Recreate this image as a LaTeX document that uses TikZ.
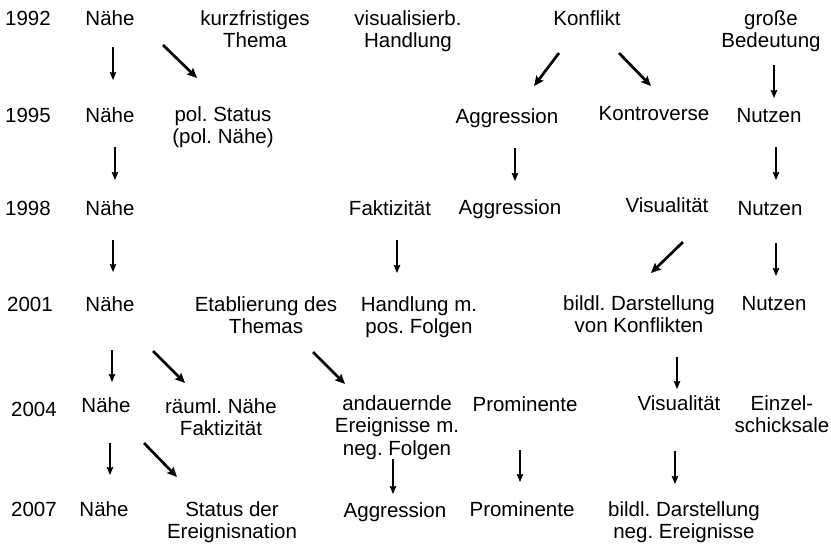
\documentclass[tikz,border=0pt]{standalone}
\usepackage{fontspec}
\setmainfont{Liberation Sans}
\usetikzlibrary{arrows.meta,calc}
\frenchspacing
\begin{document}
\begin{tikzpicture}[x=1pt,y=-1pt,
  lbl/.style={anchor=base, inner sep=0pt, align=center, font=\fontsize{20.5}{22.5}\selectfont},
  va/.style={-{Stealth[length=8pt,width=6.5pt,inset=1pt]}, line width=1.3pt},
  da/.style={-{Stealth[length=10pt,width=9pt,inset=2pt]}, line width=2.7pt}]
\useasboundingbox (0,0) rectangle (831,547);
% row 1992 (multi-line nodes: base = last line)
\node[lbl] (y92) at (28,25) {1992};
\node[lbl] (a1) at (110,25) {Nähe};
\node[lbl] (kt) at (255,47.5) {kurzfristiges\\Thema};
\node[lbl] (vh) at (408,47.5) {visualisierb.\\Handlung};
\node[lbl] (ko) at (587,25) {Konflikt};
\node[lbl] (gb) at (771,47.5) {große\\Bedeutung};
% row 1995
\node[lbl] (y95) at (28,122) {1995};
\node[lbl] (a2) at (110,122) {Nähe};
\node[lbl] (ps) at (223,143.5) {pol. Status\\(pol. Nähe)};
\node[lbl] (ag2) at (507,123) {Aggression};
\node[lbl] (kv) at (654,120) {Kontroverse};
\node[lbl] (nu2) at (769,122) {Nutzen};
% row 1998
\node[lbl] (y98) at (28,215) {1998};
\node[lbl] (a3) at (110,215) {Nähe};
\node[lbl] (fk3) at (390,215) {Faktizität};
\node[lbl] (ag3) at (510,214) {Aggression};
\node[lbl] (vi3) at (667,212) {Visualität};
\node[lbl] (nu3) at (770,215) {Nutzen};
% row 2001
\node[lbl] (y01) at (30,311) {2001};
\node[lbl] (a4) at (110,311) {Nähe};
\node[lbl] (et) at (266,333.5) {Etablierung des\\Themas};
\node[lbl] (hp) at (419,333.5) {Handlung m.\\pos. Folgen};
\node[lbl] (bk) at (639,332.5) {bildl. Darstellung\\von Konflikten};
\node[lbl] (nu4) at (774,310) {Nutzen};
% row 2004
\node[lbl] (y04) at (34,416) {2004};
\node[lbl] (a5) at (106,412) {Nähe};
\node[lbl] (rn) at (221,435.5) {räuml. Nähe\\Faktizität};
\node[lbl] (ae) at (397,455) {andauernde\\Ereignisse m.\\neg. Folgen};
\node[lbl] (pr5) at (525,411) {Prominente};
\node[lbl] (vi5) at (679,410) {Visualität};
\node[lbl] (ez) at (782,432.5) {Einzel-\\schicksale};
% row 2007
\node[lbl] (y07) at (34,516) {2007};
\node[lbl] (a6) at (104,516) {Nähe};
\node[lbl] (se) at (232,538.5) {Status der\\Ereignisnation};
\node[lbl] (ag6) at (395,517) {Aggression};
\node[lbl] (pr6) at (522,516) {Prominente};
\node[lbl] (bn) at (684,538.5) {bildl. Darstellung\\neg. Ereignisse};
% arrows
\draw[va] ($(a1.base)+(3,22)$) -- ($(a2.base)+(3,-42)$);
\draw[da] ($(a1.base)+(53,20)$) -- ($(ps.base)+(-26,-65.5)$);
\draw[da] ($(ko.base)+(-28,28)$) -- ($(ag2.base)+(27,-37)$);
\draw[da] ($(ko.base)+(32,28)$) -- ($(kv.base)+(-3,-34)$);
\draw[va] ($(gb.base)+(3,17.5)$) -- ($(nu2.base)+(5,-24)$);
\draw[va] ($(a2.base)+(5,25)$) -- ($(a3.base)+(5,-35)$);
\draw[va] ($(ag2.base)+(8,25)$) -- ($(ag3.base)+(5,-33)$);
\draw[va] ($(nu2.base)+(7,25)$) -- ($(nu3.base)+(6,-35)$);
\draw[va] ($(a3.base)+(3,25)$) -- ($(a4.base)+(3,-39)$);
\draw[va] ($(fk3.base)+(7,25)$) -- ($(hp.base)+(-22,-60.5)$);
\draw[da] ($(vi3.base)+(16,30)$) -- ($(bk.base)+(12,-59.5)$);
\draw[va] ($(nu3.base)+(6,28)$) -- ($(nu4.base)+(2,-34)$);
\draw[va] ($(a4.base)+(2,39)$) -- ($(a5.base)+(6,-30)$);
\draw[da] ($(a4.base)+(43,40)$) -- ($(rn.base)+(-36,-52.5)$);
\draw[da] ($(et.base)+(47,18.5)$) -- ($(ae.base)+(-52,-71)$);
\draw[va] ($(bk.base)+(38,24.5)$) -- ($(vi5.base)+(-2,-21)$);
\draw[va] ($(a5.base)+(4,31)$) -- ($(a6.base)+(6,-41)$);
\draw[da] ($(a5.base)+(38,31)$) -- ($(se.base)+(-55,-61.5)$);
\draw[va] ($(ae.base)+(-4,4)$) -- ($(ag6.base)+(-2,-23)$);
\draw[va] ($(pr5.base)+(-5,39)$) -- ($(pr6.base)+(-2,-34)$);
\draw[va] ($(vi5.base)+(-4,41)$) -- ($(bn.base)+(-9,-54.5)$);
\end{tikzpicture}
\end{document}
